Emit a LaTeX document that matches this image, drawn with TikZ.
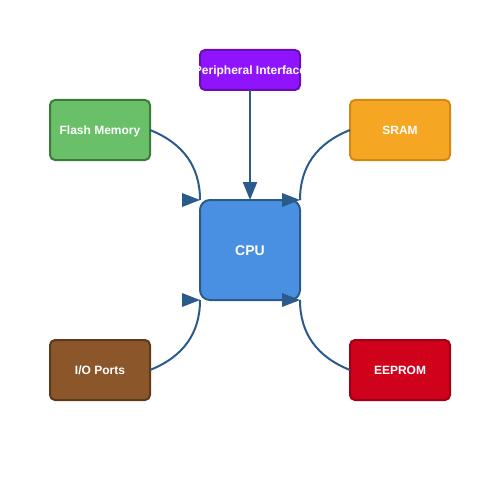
\documentclass[tikz,border=0pt]{standalone}
\usepackage{fontspec}
\setmainfont{Liberation Sans}
\usetikzlibrary{arrows.meta}
\definecolor{arrowc}{HTML}{2B5B8A}
\definecolor{purpF}{HTML}{9013FE}\definecolor{purpS}{HTML}{6A0DB5}
\definecolor{greenF}{HTML}{6ABF69}\definecolor{greenS}{HTML}{3A7D38}
\definecolor{orangeF}{HTML}{F5A623}\definecolor{orangeS}{HTML}{D4880F}
\definecolor{blueF}{HTML}{4A90E2}\definecolor{blueS}{HTML}{2B5B8A}
\definecolor{brownF}{HTML}{8B572A}\definecolor{brownS}{HTML}{5D3A1A}
\definecolor{redF}{HTML}{D0021B}\definecolor{redS}{HTML}{A00016}
\tikzset{
  box/.style={draw, line width=2pt, rounded corners=5pt, minimum width=100pt, minimum height=60pt,
    inner sep=0pt, outer sep=0pt, text=white, text height=8.6pt, text depth=0pt,
    font=\fontsize{12}{14}\selectfont\bfseries},
  conn/.style={draw=arrowc, line width=2pt},
  headR/.style={fill=arrowc},
}
\begin{document}
\begin{tikzpicture}[x=1pt,y=-1pt]
\useasboundingbox (0,0) rectangle (500,500);
\node[box, fill=purpF, draw=purpS, minimum height=40pt] (per) at (250,70) {\makebox[0pt]{Peripheral Interface}};
\node[box, fill=greenF, draw=greenS] (flash) at (100,130) {Flash Memory};
\node[box, fill=orangeF, draw=orangeS] (sram) at (400,130) {SRAM};
\node[box, fill=blueF, draw=blueS, rounded corners=10pt, minimum width=100pt, minimum height=100pt, text height=10pt, font=\fontsize{14}{16}\selectfont\bfseries] (cpu) at (250,250) {CPU};
\node[box, fill=brownF, draw=brownS] (io) at (100,370) {I/O Ports};
\node[box, fill=redF, draw=redS] (eep) at (400,370) {EEPROM};
% vertical connector
\draw[conn, -{Triangle[length=18pt 0,width=14pt 0]}] (per.south) -- (cpu.north);
% curved connectors
\draw[conn] (flash.east) .. controls (183.3,143.3) and (200,166.7) .. (cpu.north west);
\draw[conn] (sram.west) .. controls (316.7,143.3) and (300,166.7) .. (cpu.north east);
\draw[conn] (io.east) .. controls (183.3,356.7) and (200,333.3) .. (cpu.south west);
\draw[conn] (eep.west) .. controls (316.7,356.7) and (300,333.3) .. (cpu.south east);
% fixed-orientation heads
\foreach \a in {north west,north east,south west,south east}{
  \fill[headR] (cpu.\a) -- ++(-18,-7) -- ++(0,14) -- cycle;
}
\end{tikzpicture}
\end{document}
